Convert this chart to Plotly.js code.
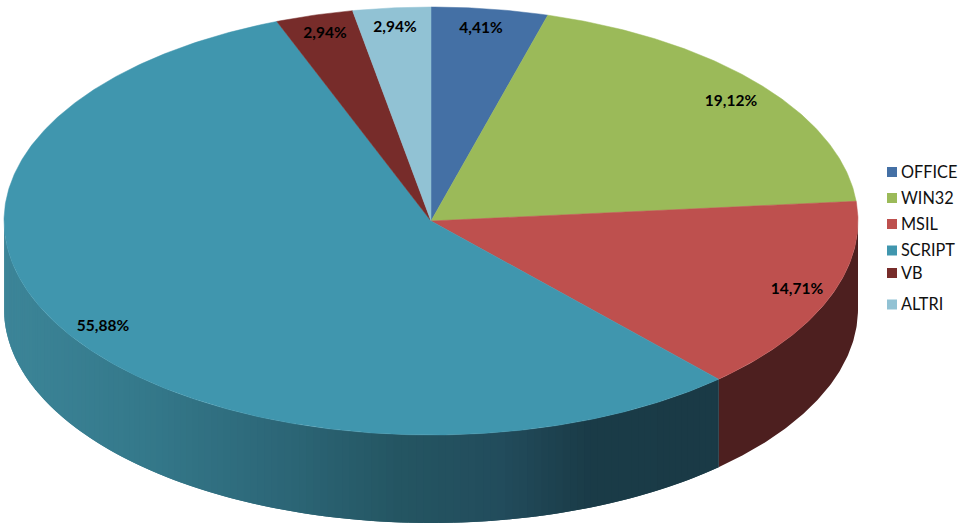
<!DOCTYPE html>
<html>
<head>
<meta charset="utf-8">
<script src="https://cdn.plot.ly/plotly-3.0.1.min.js"></script>
<style>html,body{margin:0;padding:0;background:#fff}#chart{width:967px;height:529px}</style>
</head>
<body>
<div id="chart"></div>
<script>
// Data
const categories = ["OFFICE", "WIN32", "MSIL", "SCRIPT", "VB", "ALTRI"];
const shares = [4.41, 19.12, 14.71, 55.88, 2.94, 2.94];
const shareLabels = ["4,41%", "19,12%", "14,71%", "55,88%", "2,94%", "2,94%"];

// Styles
const topColors = ["#4470A5", "#9BBA59", "#BE504E", "#4096AE", "#772C2A", "#91C2D4"];
const wallColors = ["#2B4263", "#5D7035", "#4D1F1F", null, "#471A19", "#57747F"];
const scriptWallStops = [[4, [60, 133, 152]], [150, [52, 120, 138]], [300, [43, 100, 116]],
                         [400, [36, 85, 98]], [500, [34, 76, 92]], [590, [26, 59, 71]], [720, [26, 58, 70]]];

// Layout of the drawing
const cx = 431, cy = 221, rx = 427, ry = 214, depth = 88;
const labelX = [481, 731, 797, 103, 325, 395];
const labelY = [29, 102, 290, 327, 34, 28];
const legendY = [172, 198, 224, 250.5, 273, 304.5];
const legendTextY = [173.5, 199.5, 225.5, 251.5, 274.5, 306];
const legendX = 892, legendTextX = 901;

const total = shares.reduce((a, b) => a + b, 0);
const rad = d => d * Math.PI / 180;
const px = a => cx + rx * Math.sin(rad(a));
const py = a => cy - ry * Math.cos(rad(a));

let acc = 0;
const slices = shares.map(v => {
  const start = acc / total * 360;
  acc += v;
  return [start, acc / total * 360];
});

function arc(a0, a1) {
  const n = Math.max(2, Math.ceil((a1 - a0) * 2));
  const out = [];
  for (let i = 0; i <= n; i++) out.push(a0 + (a1 - a0) * i / n);
  return out;
}
function scriptShade(x) {
  for (let i = 1; i < scriptWallStops.length; i++) {
    const [x0, c0] = scriptWallStops[i - 1], [x1, c1] = scriptWallStops[i];
    if (x <= x1) {
      const t = Math.max(0, (x - x0) / (x1 - x0));
      return "rgb(" + c0.map((c, k) => Math.round(c + (c1[k] - c) * t)).join(",") + ")";
    }
  }
  return "rgb(" + scriptWallStops[scriptWallStops.length - 1][1].join(",") + ")";
}
function wallBand(a0, a1, color) {
  const top = arc(a0, a1);
  const xs = top.map(px).concat(top.slice().reverse().map(px));
  const ys = top.map(py).concat(top.slice().reverse().map(a => py(a) + depth));
  return {
    type: "scatter", mode: "lines", x: xs.concat(xs[0]), y: ys.concat(ys[0]),
    fill: "toself", fillcolor: color, line: { width: 0 },
    hoverinfo: "skip", showlegend: false
  };
}

const traces = [];
// Side walls: only the front half of the cylinder (90 to 270 degrees) is visible
slices.forEach(([s, e], i) => {
  const a0 = Math.max(s, 90), a1 = Math.min(e, 270);
  if (a1 <= a0) return;
  if (wallColors[i]) {
    traces.push(wallBand(a0, a1, wallColors[i]));
  } else {
    // Bands are painted left to right, each overlapping the previous one, so no seams show
    const step = 1;
    for (let a = a1; a > a0; a -= step) {
      const low = Math.max(a0, a - 2 * step);
      traces.push(wallBand(low, a, scriptShade(px(Math.max(a0, a - step / 2)))));
    }
  }
});
// Top face
slices.forEach(([s, e], i) => {
  const pts = arc(s, e);
  traces.push({
    type: "scatter", mode: "lines", name: categories[i],
    x: [cx].concat(pts.map(px), cx), y: [cy].concat(pts.map(py), cy),
    fill: "toself", fillcolor: topColors[i], line: { color: topColors[i], width: 0.5 },
    hovertemplate: categories[i] + ": " + shareLabels[i] + "<extra></extra>", showlegend: false
  });
});
// Value labels
traces.push({
  type: "scatter", mode: "text", x: labelX, y: labelY, text: shareLabels,
  textposition: "middle center", cliponaxis: false,
  textfont: { family: "Lato, 'Open Sans', sans-serif", size: 15.5, color: "#000", weight: 700 },
  hoverinfo: "skip", showlegend: false
});
// Legend (its rows are unevenly spaced in the reference)
traces.push({
  type: "scatter", mode: "markers", x: categories.map(() => legendX), y: legendY, cliponaxis: false,
  marker: { symbol: "square", size: 10, color: topColors, line: { width: 0 } },
  hoverinfo: "skip", showlegend: false
});
traces.push({
  type: "scatter", mode: "text", x: categories.map(() => legendTextX), y: legendTextY,
  text: categories, textposition: "middle right", cliponaxis: false,
  textfont: { family: "Lato, 'Open Sans', sans-serif", size: 16.3, color: "#111" },
  hoverinfo: "skip", showlegend: false
});

const hidden = { visible: false, fixedrange: true };
Plotly.newPlot("chart", traces, {
  width: 967, height: 529,
  margin: { l: 0, r: 0, t: 0, b: 0 },
  paper_bgcolor: "#fff", plot_bgcolor: "#fff",
  showlegend: false,
  xaxis: Object.assign({ range: [0, 967] }, hidden),
  yaxis: Object.assign({ range: [529, 0] }, hidden)
}, { displayModeBar: false, responsive: false });
</script>
</body>
</html>
